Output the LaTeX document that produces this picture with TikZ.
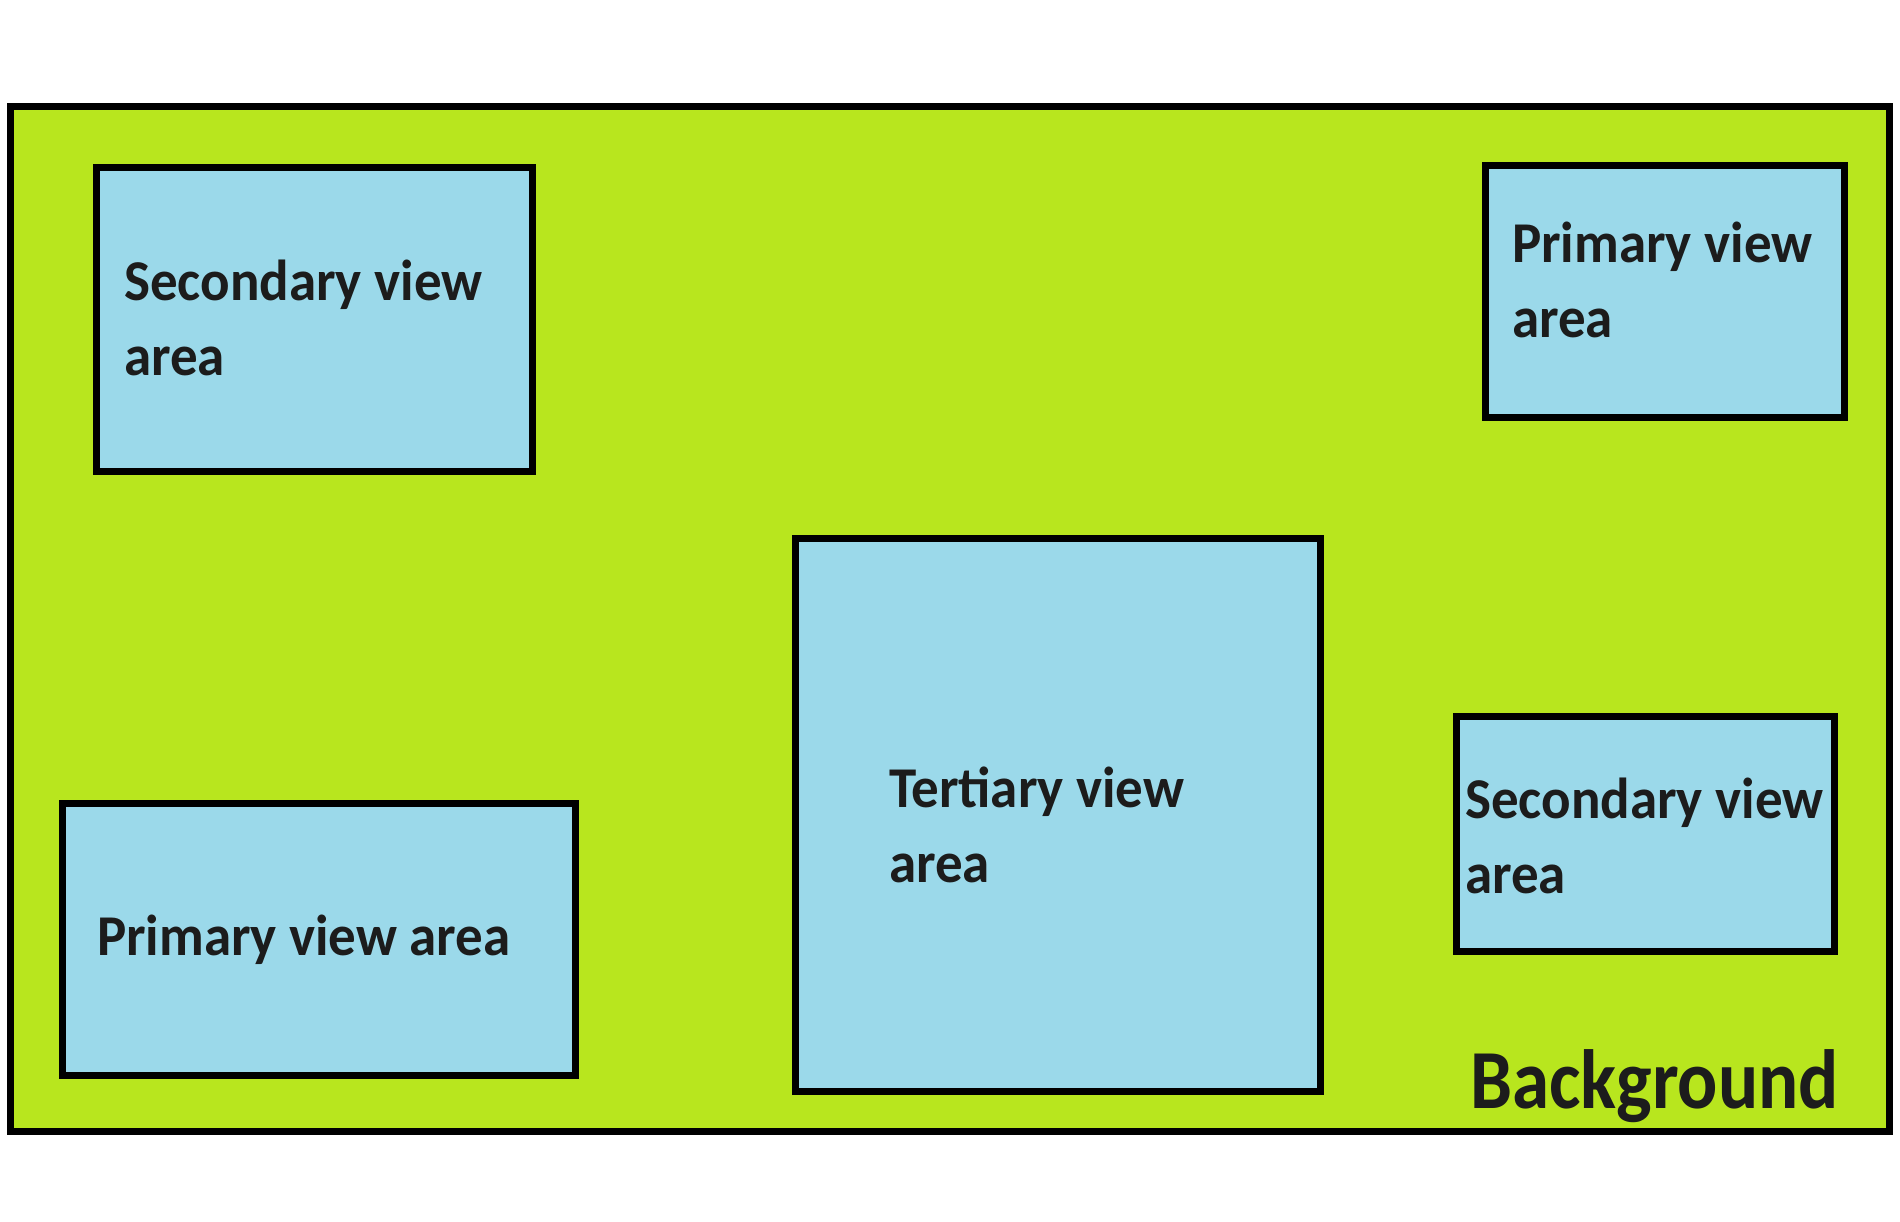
\documentclass[tikz,border=0pt]{standalone}
\usepackage{fontspec}
\setmainfont{Carlito}
\usepackage{graphicx}
\definecolor{bggreen}{RGB}{184,230,30}
\definecolor{viewblue}{RGB}{155,217,234}
\definecolor{txtdark}{RGB}{28,28,28}
\newcommand\vtxt[2]{\scalebox{1}[#1]{#2}}
\tikzset{
  bgbox/.style={draw=black, line width=7pt, fill=bggreen, inner sep=0pt, outer sep=0pt},
  viewbox/.style={draw=black, line width=7pt, fill=viewblue, inner sep=0pt, outer sep=0pt},
  lbl/.style={inner sep=0pt, outer sep=0pt, anchor=base west, text=txtdark},
}
\newcommand\fs[1]{\fontsize{#1}{#1}\selectfont\bfseries}
\begin{document}
\begin{tikzpicture}[x=1pt,y=-1pt]
\useasboundingbox (0,0) rectangle (1900,1221);
\node[bgbox, minimum width=1879pt, minimum height=1025pt] (bg) at (950,618.5) {};
\node[viewbox, minimum width=436.5pt, minimum height=304pt] (b1) at (314.25,319) {};
\node[viewbox, minimum width=359pt, minimum height=252pt] (b2) at (1664.5,291) {};
\node[viewbox, minimum width=525pt, minimum height=553pt] (b3) at (1058,815.4) {};
\node[viewbox, minimum width=513pt, minimum height=272pt] (b4) at (318.5,939) {};
\node[viewbox, minimum width=378pt, minimum height=235pt] (b5) at (1645,833.5) {};
% labels
\node[lbl, font=\fs{55}] (t1a) at (124,300) {\vtxt{1.05}{Secondary view}};
\node[lbl, font=\fs{55}] (t1b) at (124,375) {\vtxt{1.05}{area}};
\node[lbl, font=\fs{55}] (t2a) at (1512,262) {\vtxt{1.05}{Primary view}};
\node[lbl, font=\fs{55}] (t2b) at (1512,337) {\vtxt{1.05}{area}};
\node[lbl, font=\fs{55}] (t3a) at (889,807) {\vtxt{1.05}{Tertiary view}};
\node[lbl, font=\fs{55}] (t3b) at (889,882) {\vtxt{1.05}{area}};
\node[lbl, font=\fs{55}] (t4) at (97,955) {\vtxt{1.05}{Primary view area}};
\node[lbl, font=\fs{55}] (t5a) at (1465,818) {\vtxt{1.05}{Secondary view}};
\node[lbl, font=\fs{55}] (t5b) at (1465,893) {\vtxt{1.05}{area}};
\node[lbl, font=\fs{75}] (tbg) at (1470,1108) {\vtxt{1.12}{Background}};
\end{tikzpicture}
\end{document}
